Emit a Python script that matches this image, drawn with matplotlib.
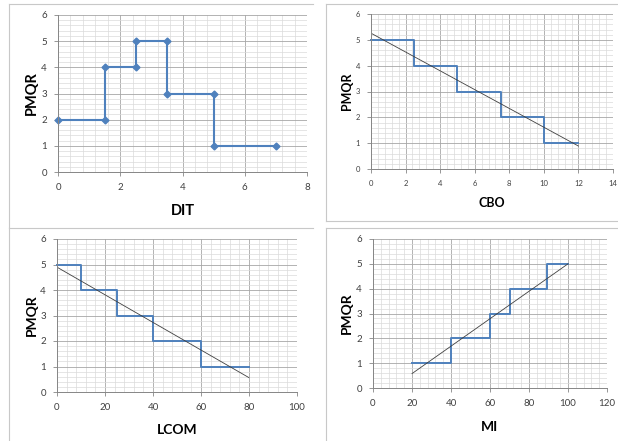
import numpy as np
import matplotlib
matplotlib.use('Agg')
import matplotlib.pyplot as plt
from matplotlib.ticker import MultipleLocator, AutoMinorLocator
from matplotlib.lines import Line2D

plt.rcParams['font.family'] = ['Lato', 'DejaVu Sans']

# step data (PMQR against each metric)
dit_x = [0, 1.5, 1.5, 2.5, 2.5, 3.5, 3.5, 5, 5, 7]
dit_y = [2, 2, 4, 4, 5, 5, 3, 3, 1, 1]

cbo_x = [0, 2.5, 2.5, 5, 5, 7.5, 7.5, 10, 10, 12]
cbo_y = [5, 5, 4, 4, 3, 3, 2, 2, 1, 1]

lcom_x = [0, 10, 10, 25, 25, 40, 40, 60, 60, 80]
lcom_y = [5, 5, 4, 4, 3, 3, 2, 2, 1, 1]

mi_x = [20, 40, 40, 60, 60, 70, 70, 89, 89, 100]
mi_y = [1, 1, 2, 2, 3, 3, 4, 4, 5, 5]

W, H = 618, 441
BLUE = '#4F81BD'
fig = plt.figure(figsize=(W / 100, H / 100), dpi=100)


def px_axes(l, r, t, b):
    return fig.add_axes([l / W, 1 - b / H, (r - l) / W, (b - t) / H])


def setup(ax, xmax, xstep, tsize=7, lsize=10, xlabel='', ypad=1.5, xpad=9):
    ax.set_xlim(0, xmax)
    ax.set_ylim(0, 6)
    ax.xaxis.set_major_locator(MultipleLocator(xstep))
    ax.yaxis.set_major_locator(MultipleLocator(1))
    ax.xaxis.set_minor_locator(AutoMinorLocator(5))
    ax.yaxis.set_minor_locator(AutoMinorLocator(5))
    ax.grid(which='major', color='#a6a6a6', lw=0.6)
    ax.grid(which='minor', color='#dadada', lw=0.5)
    ax.set_axisbelow(True)
    for s in ['top', 'right']:
        ax.spines[s].set_visible(False)
    for s in ['left', 'bottom']:
        ax.spines[s].set_color('#868686')
        ax.spines[s].set_linewidth(0.7)
    ax.tick_params(which='major', direction='out', length=3, width=0.6,
                   color='#868686', labelsize=tsize, labelcolor='#404040', pad=5)
    ax.tick_params(which='minor', length=0)
    ax.set_ylabel('PMQR', fontsize=lsize, fontweight='bold', labelpad=ypad)
    ax.set_xlabel(xlabel, fontsize=lsize, fontweight='bold', labelpad=xpad)


def trend(ax, x, y):
    k, c = np.polyfit(x, y, 1)
    xs = np.array([min(x), max(x)])
    ax.plot(xs, k * xs + c, color='#404040', lw=0.6)


# DIT
ax1 = px_axes(58, 307, 15, 172)
setup(ax1, 8, 2, xlabel='DIT', tsize=7, lsize=10.5, ypad=1.5, xpad=8.5)
ax1.plot(dit_x, dit_y, color=BLUE, lw=1.5, marker='D', ms=3.5, clip_on=False)

# CBO
ax2 = px_axes(371, 613, 14, 169)
setup(ax2, 14, 2, xlabel='CBO', tsize=5.5, lsize=9, ypad=2, xpad=7)
ax2.plot(cbo_x, cbo_y, color=BLUE, lw=1.4, clip_on=False)
trend(ax2, cbo_x, cbo_y)

# LCOM
ax3 = px_axes(57, 297, 239, 392)
setup(ax3, 100, 20, xlabel='LCOM', tsize=7, lsize=10, ypad=1.5, xpad=8.5)
ax3.plot(lcom_x, lcom_y, color=BLUE, lw=1.4, clip_on=False)
trend(ax3, lcom_x, lcom_y)

# MI
ax4 = px_axes(373, 607, 239, 388)
setup(ax4, 120, 20, xlabel='MI', tsize=7, lsize=10, ypad=2.5, xpad=9)
ax4.plot(mi_x, mi_y, color=BLUE, lw=1.4)
trend(ax4, mi_x, mi_y)

# panel frames
frames = [
    ((9, 9), (4, 228)), ((9, 313), (4, 4)),
    ((326, 326), (4, 221)), ((326, 618), (4, 4)), ((326, 618), (221, 221)),
    ((9, 313), (228, 228)), ((9, 9), (228, 441)),
    ((326, 618), (228, 228)), ((326, 326), (228, 441)),
]
for xs, ys in frames:
    fig.add_artist(Line2D([x / W for x in xs], [1 - y / H for y in ys],
                          color='#c8c8c8', lw=0.8))

fig.savefig('out.png', dpi=100)
